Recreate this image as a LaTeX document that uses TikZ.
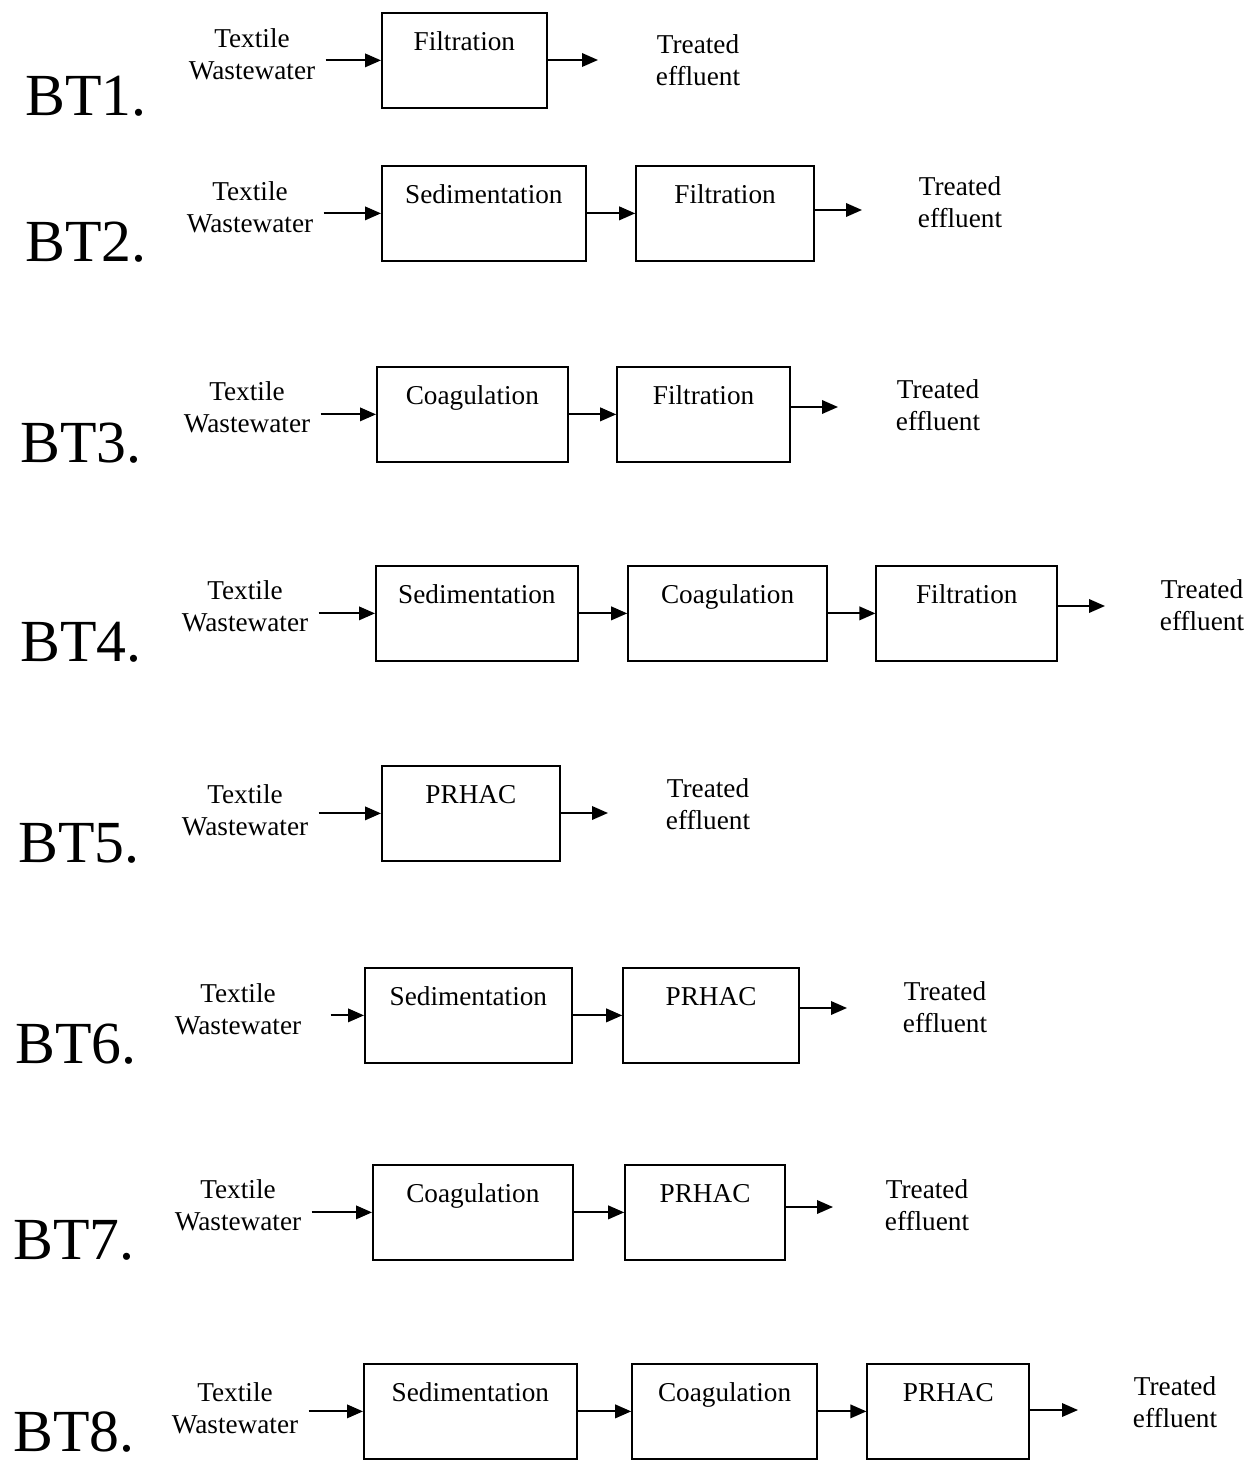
\documentclass[tikz,border=0pt]{standalone}
\usepackage{fontspec}
\setmainfont{Liberation Serif}
\usetikzlibrary{positioning,arrows.meta}

\begin{document}
\begin{tikzpicture}[
  x=0.02cm, y=-0.02cm,
  >={Triangle[length=0.32cm,width=0.27cm]},
  node distance=0.98cm,
  stage/.style={draw, line width=1pt, minimum height=1.9cm, inner xsep=0pt, inner ysep=0pt, text height=0.76cm, text depth=1.14cm, font=\fontsize{15.5}{18}\selectfont},
  feed/.style={align=center, inner sep=0pt, font=\fontsize{15.5}{18.2}\selectfont},
  tag/.style={anchor=base west, inner sep=0pt, text depth=0pt, font=\fontsize{34}{34}\selectfont},
  flow/.style={->, line width=1.1pt},
  feedin/.style={flow, shorten <=0.2cm}
]
\useasboundingbox (0,0) rectangle (1254,1466);

\node[tag] (bt1) at (25,116) {BT1.};
\node[feed] (in1) at (252,54) {Textile\\Wastewater};
\node[stage, minimum width=3.30cm, anchor=north west] (filt1) at (381,12) {Filtration};
\coordinate (out1) at (598,60);
\node[feed] (eff1) at (698,60) {Treated\\effluent};

\node[tag] (bt2) at (25,262) {BT2.};
\node[feed] (in2) at (250,207) {Textile\\Wastewater};
\node[stage, minimum width=4.08cm, anchor=north west] (sed2) at (381,165) {Sedimentation};
\node[stage, minimum width=3.56cm, right=0.97cm of sed2] (filt2) {Filtration};
\coordinate (out2) at (862,210);
\node[feed] (eff2) at (960,202) {Treated\\effluent};

\node[tag] (bt3) at (20,462) {BT3.};
\node[feed] (in3) at (247,407) {Textile\\Wastewater};
\node[stage, minimum width=3.82cm, anchor=north west] (coag3) at (376,366) {Coagulation};
\node[stage, minimum width=3.46cm, right=0.95cm of coag3] (filt3) {Filtration};
\coordinate (out3) at (838,407);
\node[feed] (eff3) at (938,405) {Treated\\effluent};

\node[tag] (bt4) at (20,661) {BT4.};
\node[feed] (in4) at (245,606) {Textile\\Wastewater};
\node[stage, minimum width=4.04cm, anchor=north west] (sed4) at (375,565) {Sedimentation};
\node[stage, minimum width=3.98cm, right=0.97cm of sed4] (coag4) {Coagulation};
\node[stage, minimum width=3.62cm, right=0.95cm of coag4] (filt4) {Filtration};
\coordinate (out4) at (1105,606);
\node[feed] (eff4) at (1202,605) {Treated\\effluent};

\node[tag] (bt5) at (18,862) {BT5.};
\node[feed] (in5) at (245,810) {Textile\\Wastewater};
\node[stage, minimum width=3.56cm, anchor=north west] (prhac5) at (381,765) {PRHAC};
\coordinate (out5) at (608,813);
\node[feed] (eff5) at (708,804) {Treated\\effluent};

\node[tag] (bt6) at (15,1063) {BT6.};
\node[feed] (in6) at (238,1009) {Textile\\Wastewater};
\node[stage, minimum width=4.14cm, anchor=north west] (sed6) at (364,967) {Sedimentation};
\node[stage, minimum width=3.52cm, right=0.99cm of sed6] (prhac6) {PRHAC};
\coordinate (out6) at (847,1008);
\node[feed] (eff6) at (945,1007) {Treated\\effluent};

\node[tag] (bt7) at (13,1259) {BT7.};
\node[feed] (in7) at (238,1205) {Textile\\Wastewater};
\node[stage, minimum width=4.00cm, anchor=north west] (coag7) at (372,1164) {Coagulation};
\node[stage, minimum width=3.20cm, right=1.01cm of coag7] (prhac7) {PRHAC};
\coordinate (out7) at (833,1207);
\node[feed] (eff7) at (927,1205) {Treated\\effluent};

\node[tag] (bt8) at (13,1451) {BT8.};
\node[feed] (in8) at (235,1408) {Textile\\Wastewater};
\node[stage, minimum width=4.26cm, anchor=north west] (sed8) at (363,1363) {Sedimentation};
\node[stage, minimum width=3.70cm, right=1.07cm of sed8] (coag8) {Coagulation};
\node[stage, minimum width=3.24cm, right=0.97cm of coag8] (prhac8) {PRHAC};
\coordinate (out8) at (1078,1410);
\node[feed] (eff8) at (1175,1402) {Treated\\effluent};

\draw[feedin] (in1.east |- filt1.west) -- (filt1.west);
\draw[flow] (filt1.east |- out1) -- (out1);

\draw[feedin] (in2.east |- sed2.west) -- (sed2.west);
\draw[flow] (sed2) -- (filt2);
\draw[flow] (filt2.east |- out2) -- (out2);

\draw[feedin] (in3.east |- coag3.west) -- (coag3.west);
\draw[flow] (coag3) -- (filt3);
\draw[flow] (filt3.east |- out3) -- (out3);

\draw[feedin] (in4.east |- sed4.west) -- (sed4.west);
\draw[flow] (sed4) -- (coag4);
\draw[flow] (coag4) -- (filt4);
\draw[flow] (filt4.east |- out4) -- (out4);

\draw[feedin] (in5.east |- prhac5.west) -- (prhac5.west);
\draw[flow] (prhac5.east |- out5) -- (out5);

\draw[feedin, shorten <=0.58cm] (in6.east |- sed6.west) -- (sed6.west);
\draw[flow] (sed6) -- (prhac6);
\draw[flow] (prhac6.east |- out6) -- (out6);

\draw[feedin] (in7.east |- coag7.west) -- (coag7.west);
\draw[flow] (coag7) -- (prhac7);
\draw[flow] (prhac7.east |- out7) -- (out7);

\draw[feedin] (in8.east |- sed8.west) -- (sed8.west);
\draw[flow] (sed8) -- (coag8);
\draw[flow] (coag8) -- (prhac8);
\draw[flow] (prhac8.east |- out8) -- (out8);
\end{tikzpicture}
\end{document}
